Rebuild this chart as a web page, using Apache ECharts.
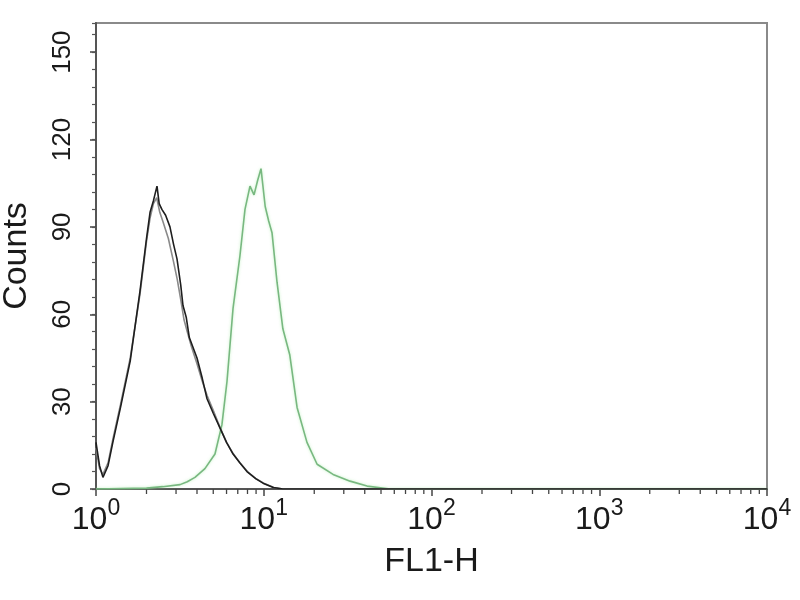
<!DOCTYPE html>
<html><head><meta charset="utf-8">
<script src="https://cdn.jsdelivr.net/npm/echarts@6/dist/echarts.min.js"></script>
<style>html,body{margin:0;padding:0;background:#fff}#c{width:800px;height:600px}</style>
</head><body><div id="c"></div>
<script>
// ---- data ----
const xTickExponents = [0, 1, 2, 3, 4];
const yTickLabels = [0, 30, 60, 90, 120, 150];
const controlBlack = [
  [1.0,16],[1.05,8],[1.10,4],[1.18,8],[1.26,16],[1.4,28],[1.6,44],[1.83,68],[2.0,86],[2.1,95],
  [2.2,99],[2.31,104],[2.38,98],[2.47,96],[2.6,94],[2.76,90],[2.9,84],[3.04,79],[3.2,70],[3.3,63],
  [3.45,59],[3.6,52],[4.0,45],[4.3,38],[4.59,31],[5.0,26],[5.48,21],[6.0,16],[6.56,12],[7.2,9],
  [7.94,6],[9.0,3.5],[9.9,2],[11.4,0.5],[13,0],[10000,0]
];
const controlGray = [
  [1.0,14],[1.05,7],[1.10,5],[1.18,9],[1.26,17],[1.4,29],[1.6,45],[1.83,67],[2.0,85],[2.1,93],
  [2.2,98],[2.3,100],[2.4,95],[2.5,92],[2.7,86],[2.9,78],[3.05,72],[3.2,65],[3.35,58],[3.5,54],
  [3.7,49],[4.0,43],[4.3,37],[4.6,32],[5.0,27],[5.5,21],[6.0,16],[6.6,12],[7.2,9],[8.0,6],
  [9.0,3.5],[10,2],[11.5,0.5],[13,0],[10000,0]
];
const stainedGreen = [
  [1,0],[2.0,0.3],[2.5,0.8],[3.17,1.5],[3.5,2.5],[3.89,4],[4.46,7],[5.12,12],[5.63,22],[6.04,37],
  [6.56,62],[7.21,80],[7.73,96],[8.28,104],[8.75,101],[9.2,106],[9.63,110],[10.2,97],[10.7,92],
  [11.2,88],[12.0,71],[13.0,55],[14.3,46],[15.8,28],[18.1,16],[20.8,8.5],[25.9,5],[32.7,2.7],
  [41.3,1],[56.6,0],[10000,0]
];
// ---- minor log ticks (2..9 per decade) ----
const minorX = [];
for (let e = 0; e < 4; e++) for (let m = 2; m <= 9; m++) minorX.push([m * Math.pow(10, e), 0]);

const FONT = '"Liberation Sans", Arial, sans-serif';
const chart = echarts.init(document.getElementById('c'));
chart.setOption({
  animation: false,
  backgroundColor: '#fff',
  grid: { left: 96, right: 33, top: 23, bottom: 111, show: true, borderColor: '#8a8a8a', borderWidth: 2,
          backgroundColor: 'transparent', containLabel: false, outerBoundsMode: 'none' },
  xAxis: {
    type: 'log', logBase: 10, min: 1, max: 10000,
    name: 'FL1-H', nameLocation: 'middle', nameGap: 56,
    nameTextStyle: { fontFamily: FONT, fontSize: 34, color: '#1a1a1a' },
    axisLine: { show: true, lineStyle: { color: '#555', width: 2 } },
    axisTick: { show: true, inside: false, length: 7, lineStyle: { color: '#444', width: 1.5 } },
    splitLine: { show: false },
    axisLabel: {
      margin: 8, color: '#1a1a1a',
      formatter: v => '{b|10}{s|' + xTickExponents[Math.round(Math.log10(v))] + '}',
      rich: {
        b: { fontFamily: FONT, fontSize: 32, color: '#1a1a1a' },
        s: { fontFamily: FONT, fontSize: 23, color: '#1a1a1a', padding: [0, 0, 24, 0] }
      }
    }
  },
  yAxis: [{
    type: 'value', min: 0, max: 160, interval: 30,
    name: 'Counts', nameLocation: 'middle', nameGap: 62, nameRotate: 90,
    nameTextStyle: { fontFamily: FONT, fontSize: 34, color: '#1a1a1a' },
    axisLine: { show: true, lineStyle: { color: '#555', width: 2 } },
    axisTick: { show: true, length: 6, lineStyle: { color: '#444', width: 1.5 } },
    splitLine: { show: false },
    axisLabel: {
      rotate: 90, margin: 20, fontFamily: FONT, fontSize: 26, color: '#1a1a1a', showMaxLabel: false,
      formatter: v => (yTickLabels.indexOf(v) >= 0 ? String(v) : '')
    }
  }, {
    type: 'value', min: 0, max: 160, interval: 6, position: 'left',
    axisLine: { show: false }, axisLabel: { show: false }, splitLine: { show: false },
    axisTick: { show: true, length: 4, lineStyle: { color: '#555', width: 1.2 } }
  }],
  series: [
    {
      type: 'custom', coordinateSystem: 'cartesian2d', xAxisIndex: 0, yAxisIndex: 0, silent: true, clip: false, z: 1,
      data: minorX,
      renderItem: (params, api) => {
        const p = api.coord([api.value(0), 0]);
        return { type: 'line', shape: { x1: p[0], y1: p[1], x2: p[0], y2: p[1] + 5 }, style: { stroke: '#444', lineWidth: 1.3 } };
      }
    },
    { type: 'line', data: stainedGreen, showSymbol: false, z: 3,
      lineStyle: { color: '#78b880', width: 1.6, shadowColor: 'rgba(170,235,170,0.7)', shadowBlur: 3 } },
    { type: 'line', data: controlGray, showSymbol: false, z: 4, lineStyle: { color: '#8a8a8a', width: 1.6 } },
    { type: 'line', data: controlBlack, showSymbol: false, z: 5, lineStyle: { color: '#1e1e1e', width: 1.6 } }
  ]
});
</script></body></html>
